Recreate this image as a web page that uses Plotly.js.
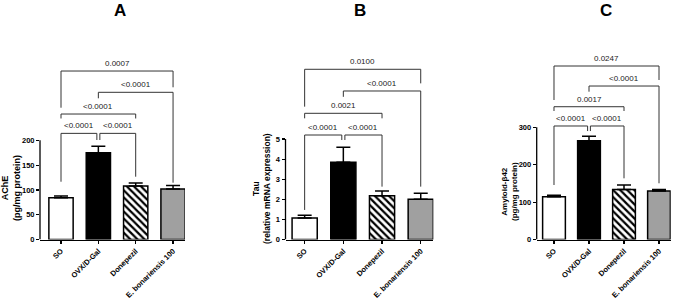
<!DOCTYPE html>
<html>
<head>
<meta charset="utf-8">
<script src="https://cdn.plot.ly/plotly-3.0.1.min.js"></script>
<style>html,body{margin:0;padding:0;background:#fff;}#chart{width:677px;height:300px;}</style>
</head>
<body>
<div id="chart"></div>
<script>
// ---- data ----
const categories = ['SO', 'OVX/D-Gal', 'Donepezil', 'E. bonariensis 100'];
const acheMean = [84, 175, 108, 102];
const acheSem = [3.5, 13, 6, 7];
const tauMean = [1.07, 3.85, 2.18, 2.0];
const tauSem = [0.14, 0.74, 0.23, 0.30];
const abetaMean = [114, 264, 134, 129.5];
const abetaSem = [4, 12, 11.5, 4.5];
const comparisons = [[0, 1], [1, 2], [0, 2], [1, 3], [0, 3]];
const pValuesA = ['<0.0001', '<0.0001', '<0.0001', '<0.0001', '0.0007'];
const pValuesB = ['<0.0001', '<0.0001', '0.0021', '<0.0001', '0.0100'];
const pValuesC = ['<0.0001', '<0.0001', '0.0017', '<0.0001', '0.0247'];
const yTicksA = [0, 50, 100, 150, 200];
const yTicksB = [0, 1, 2, 3, 4, 5];
const yTicksC = [0, 100, 200, 300];

// ---- styles ----
const barFill = ['#ffffff', '#000000', '#ffffff', '#a0a0a0'];
const barHatch = ['', '', '\\', ''];

// ---- layout helpers ----
const W = 677, H = 300;
const FONT = 'Arial, "Liberation Sans", Helvetica, sans-serif';
const yBottomPx = 239.5, yTopPx = 50;
const ydom = [(H - yBottomPx) / H, (H - yTopPx) / H];

// bracket geometry per panel: [height, left leg end, right leg end]
const panels = [
  {key: '', mean: acheMean, sem: acheSem, p: pValuesA, ticks: yTicksA,
   xdom: [40, 185], xr: [-0.5625, 3.32], yr: [0, 382.1],
   title: 'A', titleX: 120, ytitle: 'AChE<br>(pg/mg protein)', ytitleX: 11, ytitleY: 188, ytSize: 9,
   br: [[214, 116.5, 200.6], [214, 200.6, 126.6], [253, 244, 244], [296.8, 284.7, 114.5], [339.7, 265.7, 306.9]]},
  {key: '2', mean: tauMean, sem: tauSem, p: pValuesB, ticks: yTicksB,
   xdom: [285.5, 433.3], xr: [-0.495, 3.325], yr: [0, 9.43],
   title: 'B', titleX: 360, ytitle: 'Tau<br>(relative mRNA expression)', ytitleX: 261, ytitleY: 189, ytSize: 8.5,
   br: [[5.2, 1.47, 4.95], [5.2, 4.95, 2.63], [6.28, 6.03, 6.03], [7.39, 7.10, 2.63], [8.47, 6.61, 7.77]]},
  {key: '3', mean: abetaMean, sem: abetaSem, p: pValuesC, ticks: yTicksC,
   xdom: [536.7, 670.7], xr: [-0.494, 3.334], yr: [0, 506.7],
   title: 'C', titleX: 606, ytitle: 'Amyloid-β42<br>(pg/mg protein)', ytitleX: 509, ytitleY: 192, ytSize: 8,
   br: [[303.5, 145.7, 290], [303.5, 290, 163.6], [355, 343.6, 343.6], [410.4, 395.2, 150.3], [463.9, 373, 426.5]]}
];

const data = [];
const layout = {
  width: W, height: H, autosize: false,
  margin: {l: 0, r: 0, t: 0, b: 0, pad: 0},
  paper_bgcolor: '#fff', plot_bgcolor: 'rgba(0,0,0,0)',
  showlegend: false, barmode: 'overlay',
  font: {family: FONT, color: '#000'},
  shapes: [], annotations: []
};

panels.forEach(function (pn) {
  const xa = 'x' + pn.key, ya = 'y' + pn.key;
  const xs = categories.map(function (c, i) { return i; });
  categories.forEach(function (c, i) {
    const marker = {color: barFill[i], line: {color: '#000', width: 1.5}};
    if (barHatch[i]) {
      marker.pattern = {shape: barHatch[i], fgcolor: '#000000', bgcolor: '#ffffff',
        size: 5, solidity: 0.45, fillmode: 'replace'};
    }
    data.push({
      type: 'bar', name: c, x: [i], y: [pn.mean[i]], xaxis: xa, yaxis: ya, width: 0.65,
      marker: marker,
      error_y: {type: 'data', array: [pn.sem[i]], arrayminus: [0],
        symmetric: false, color: '#000', thickness: 1.5, width: 7},
      hoverinfo: 'skip'
    });
  });
  layout['xaxis' + pn.key] = {
    domain: [pn.xdom[0] / W, pn.xdom[1] / W], range: pn.xr, anchor: ya,
    tickvals: xs, ticktext: categories, tickangle: -45,
    ticks: 'outside', ticklen: 3, tickwidth: 1.2, tickcolor: '#000',
    showline: true, linecolor: '#000', linewidth: 1.3,
    showgrid: false, zeroline: false, fixedrange: true,
    tickfont: {family: FONT, size: 7.5, weight: 'bold', color: '#000'}
  };
  layout['yaxis' + pn.key] = {
    domain: ydom, range: pn.yr, anchor: xa,
    tickvals: pn.ticks, ticktext: pn.ticks.map(String),
    ticks: 'outside', ticklen: 3, tickwidth: 1.2, tickcolor: '#000',
    showline: false, showgrid: false, zeroline: false, fixedrange: true,
    tickfont: {family: FONT, size: 7.5, weight: 'bold', color: '#000'}
  };
  // y axis line only up to last tick
  layout.shapes.push({type: 'line', xref: xa + ' domain', yref: ya,
    x0: 0, x1: 0, y0: 0, y1: pn.ticks[pn.ticks.length - 1],
    line: {color: '#000', width: 1.3}});
  // significance brackets
  comparisons.forEach(function (cmp, k) {
    const g = pn.br[k];
    let x0 = cmp[0], x1 = cmp[1];
    if (k === 0) x1 = x1 - 0.04;
    if (k === 1) x0 = x0 + 0.04;
    layout.shapes.push({type: 'path', xref: xa, yref: ya,
      path: 'M' + x0 + ',' + g[1] + ' L' + x0 + ',' + g[0] + ' L' + x1 + ',' + g[0] + ' L' + x1 + ',' + g[2],
      line: {color: '#333', width: 1}});
    layout.annotations.push({xref: xa, yref: ya, x: (x0 + x1) / 2, y: g[0],
      text: pn.p[k], showarrow: false, yanchor: 'bottom', yshift: 1,
      font: {family: FONT, size: 8, color: '#222'}});
  });
  // panel title
  layout.annotations.push({xref: 'paper', yref: 'paper', x: pn.titleX / W, y: (H - 11) / H,
    text: '<b>' + pn.title + '</b>', showarrow: false, xanchor: 'center', yanchor: 'middle',
    font: {family: FONT, size: 17, color: '#000'}});
  // y axis title
  layout.annotations.push({xref: 'paper', yref: 'paper', x: pn.ytitleX / W, y: (H - pn.ytitleY) / H,
    text: '<b>' + pn.ytitle + '</b>', showarrow: false, textangle: -90,
    xanchor: 'center', yanchor: 'middle',
    font: {family: FONT, size: pn.ytSize, color: '#000'}});
});

Plotly.newPlot('chart', data, layout, {staticPlot: true, displayModeBar: false});
</script>
</body>
</html>
